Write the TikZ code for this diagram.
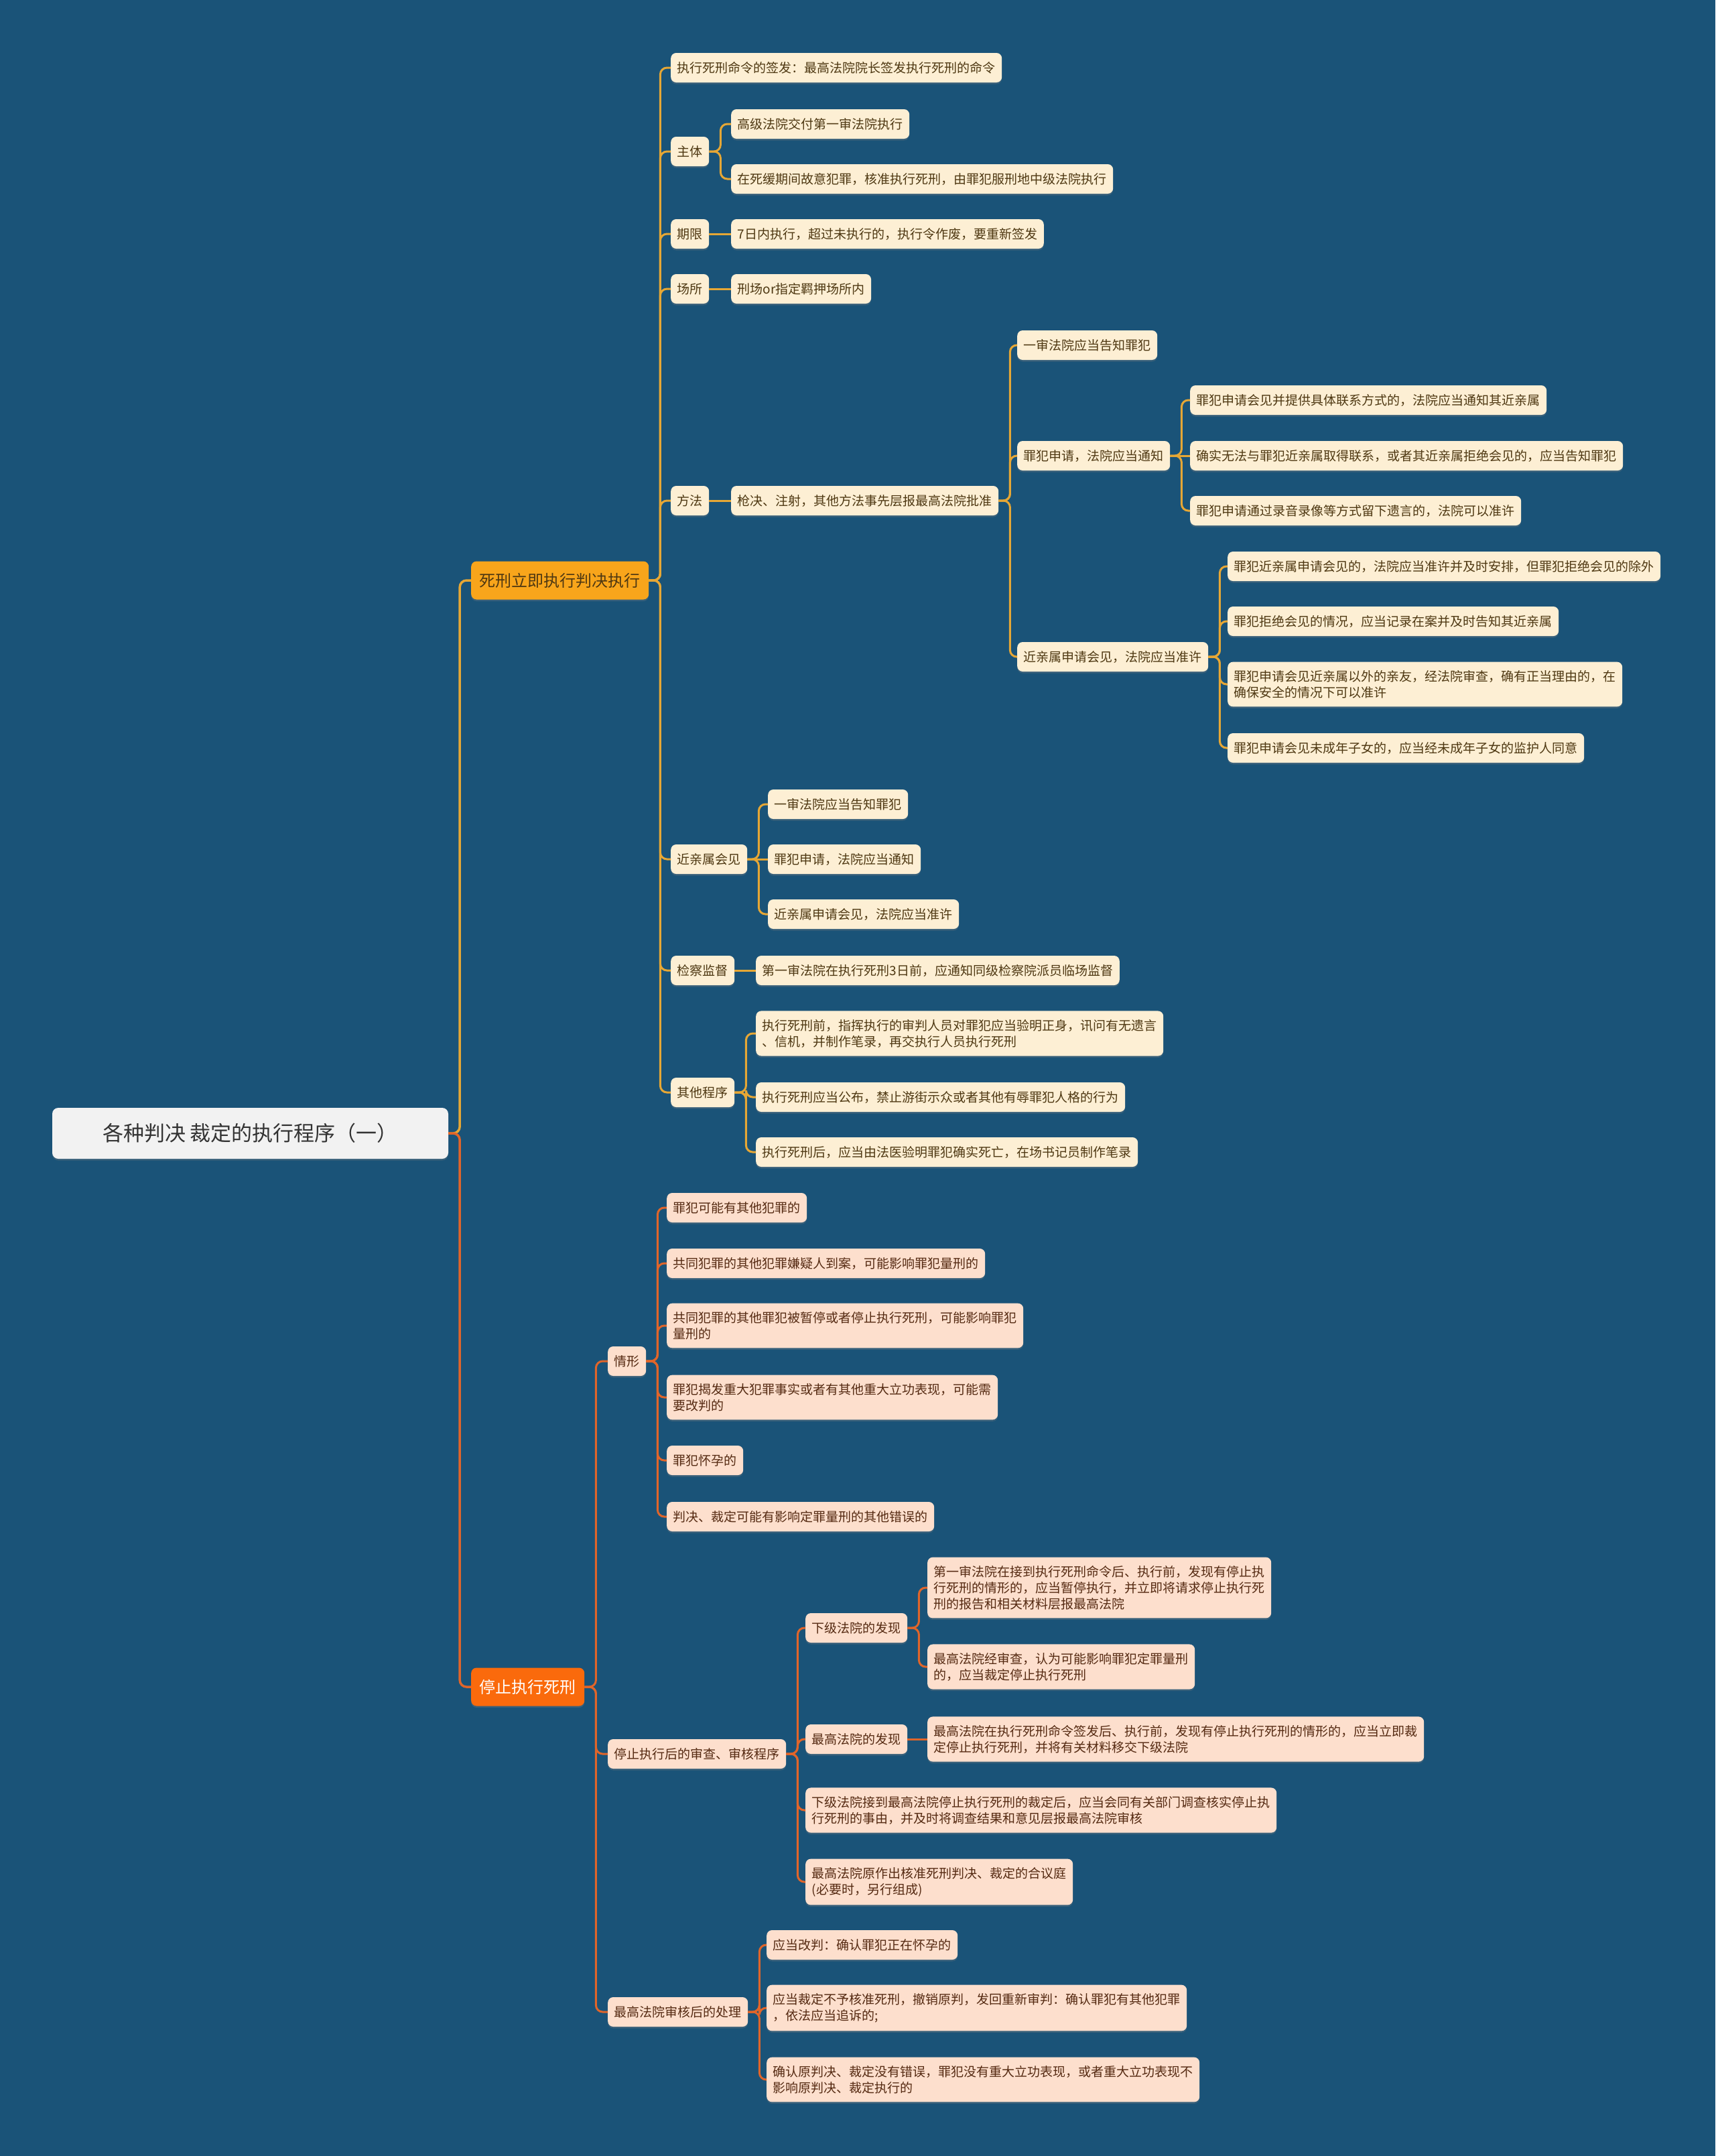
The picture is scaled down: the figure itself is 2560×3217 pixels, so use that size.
\documentclass[tikz,border=0pt]{standalone}
\usepackage{fontspec}
\setmainfont{Noto Sans CJK SC}
\usetikzlibrary{positioning,shadows}

\definecolor{bgblue}{HTML}{1A5378}
\definecolor{rootgray}{HTML}{F2F2F2}
\definecolor{rootink}{HTML}{333333}
\definecolor{mainyellow}{HTML}{F8A51B}
\definecolor{mainorange}{HTML}{FA6A0C}
\definecolor{creama}{HTML}{FDEFD4}
\definecolor{peachb}{HTML}{FDDFCD}
\definecolor{inka}{HTML}{4E3812}
\definecolor{inkb}{HTML}{552A12}
\definecolor{wirea}{HTML}{E6A735}
\definecolor{wireb}{HTML}{E0652A}

\begin{document}
\begin{tikzpicture}[
    x=1pt, y=-1pt,
    rootbox/.style={fill=rootgray, text=rootink, rounded corners=9pt, minimum width=591pt, minimum height=76pt,
        font=\fontsize{31}{36}\selectfont, drop shadow={opacity=0.3, shadow xshift=0pt, shadow yshift=-2.5pt}},
    mainbox/.style={anchor=west, rounded corners=8pt, inner xsep=12.5pt, minimum height=57pt,
        font=\fontsize{24}{28}\selectfont, drop shadow={opacity=0.3, shadow xshift=0pt, shadow yshift=-2.5pt}},
    leaf/.style={anchor=west, rounded corners=8pt, inner xsep=9.5pt, inner ysep=12.5pt, minimum height=44pt,
        align=left, font=\fontsize{19}{24}\selectfont, drop shadow={opacity=0.3, shadow xshift=0pt, shadow yshift=-2.5pt}},
    leafa/.style={leaf, fill=creama, text=inka},
    leafb/.style={leaf, fill=peachb, text=inkb},
    linka/.style={draw=wirea, line width=3pt, rounded corners=10pt},
    linkb/.style={draw=wireb, line width=3pt, rounded corners=10pt}
]
\fill[bgblue] (0,0) rectangle (2560,3217);
\useasboundingbox (0,0) rectangle (2560,3217);

% root and the two main branches
\node[rootbox] (root) at (373.5,1691) {各种判决 裁定的执行程序（一）};
\node[mainbox, fill=mainyellow, text=inka] (m1) at (703,866) {死刑立即执行判决执行};
\node[mainbox, fill=mainorange, text=white] (m2) at (703,2517) {停止执行死刑};

% branch 1
\node[leafa] (a1) at (1001,101) {执行死刑命令的签发：最高法院院长签发执行死刑的命令};
\node[leafa] (a2) at (1001,226) {主体};
\node[leafa] (a21) at (1091,185) {高级法院交付第一审法院执行};
\node[leafa] (a22) at (1091,267) {在死缓期间故意犯罪，核准执行死刑，由罪犯服刑地中级法院执行};
\node[leafa] (a3) at (1001,349) {期限};
\node[leafa] (a31) at (1091,349) {7日内执行，超过未执行的，执行令作废，要重新签发};
\node[leafa] (a4) at (1001,431) {场所};
\node[leafa] (a41) at (1091,431) {刑场or指定羁押场所内};
\node[leafa] (a5) at (1001,747) {方法};
\node[leafa] (a51) at (1091,747) {枪决、注射，其他方法事先层报最高法院批准};
\node[leafa] (a511) at (1518,515) {一审法院应当告知罪犯};
\node[leafa] (a512) at (1518,680) {罪犯申请，法院应当通知};
\node[leafa] (a5121) at (1776,597) {罪犯申请会见并提供具体联系方式的，法院应当通知其近亲属};
\node[leafa] (a5122) at (1776,680) {确实无法与罪犯近亲属取得联系，或者其近亲属拒绝会见的，应当告知罪犯};
\node[leafa] (a5123) at (1776,762) {罪犯申请通过录音录像等方式留下遗言的，法院可以准许};
\node[leafa] (a513) at (1518,980) {近亲属申请会见，法院应当准许};
\node[leafa] (a5131) at (1832,845) {罪犯近亲属申请会见的，法院应当准许并及时安排，但罪犯拒绝会见的除外};
\node[leafa] (a5132) at (1832,927) {罪犯拒绝会见的情况，应当记录在案并及时告知其近亲属};
\node[leafa] (a5133) at (1832,1021) {罪犯申请会见近亲属以外的亲友，经法院审查，确有正当理由的，在\\确保安全的情况下可以准许};
\node[leafa] (a5134) at (1832,1116) {罪犯申请会见未成年子女的，应当经未成年子女的监护人同意};
\node[leafa] (a6) at (1001,1282) {近亲属会见};
\node[leafa] (a61) at (1146,1200) {一审法院应当告知罪犯};
\node[leafa] (a62) at (1146,1282) {罪犯申请，法院应当通知};
\node[leafa] (a63) at (1146,1364) {近亲属申请会见，法院应当准许};
\node[leafa] (a7) at (1001,1448) {检察监督};
\node[leafa] (a71) at (1128,1448) {第一审法院在执行死刑3日前，应通知同级检察院派员临场监督};
\node[leafa] (a8) at (1001,1630) {其他程序};
\node[leafa] (a81) at (1128,1542) {执行死刑前，指挥执行的审判人员对罪犯应当验明正身，讯问有无遗言\\、信机，并制作笔录，再交执行人员执行死刑};
\node[leafa] (a82) at (1128,1637) {执行死刑应当公布，禁止游街示众或者其他有辱罪犯人格的行为};
\node[leafa] (a83) at (1128,1719) {执行死刑后，应当由法医验明罪犯确实死亡，在场书记员制作笔录};

% branch 2
\node[leafb] (b1) at (907,2031) {情形};
\node[leafb] (b11) at (995,1802) {罪犯可能有其他犯罪的};
\node[leafb] (b12) at (995,1885) {共同犯罪的其他犯罪嫌疑人到案，可能影响罪犯量刑的};
\node[leafb] (b13) at (995,1978) {共同犯罪的其他罪犯被暂停或者停止执行死刑，可能影响罪犯\\量刑的};
\node[leafb] (b14) at (995,2085) {罪犯揭发重大犯罪事实或者有其他重大立功表现，可能需\\要改判的};
\node[leafb] (b15) at (995,2179) {罪犯怀孕的};
\node[leafb] (b16) at (995,2263) {判决、裁定可能有影响定罪量刑的其他错误的};
\node[leafb] (b2) at (907,2617) {停止执行后的审查、审核程序};
\node[leafb] (b21) at (1202,2429) {下级法院的发现};
\node[leafb] (b211) at (1384,2369) {第一审法院在接到执行死刑命令后、执行前，发现有停止执\\行死刑的情形的，应当暂停执行，并立即将请求停止执行死\\刑的报告和相关材料层报最高法院};
\node[leafb] (b212) at (1384,2487) {最高法院经审查，认为可能影响罪犯定罪量刑\\的，应当裁定停止执行死刑};
\node[leafb] (b22) at (1202,2595) {最高法院的发现};
\node[leafb] (b221) at (1384,2595) {最高法院在执行死刑命令签发后、执行前，发现有停止执行死刑的情形的，应当立即裁\\定停止执行死刑，并将有关材料移交下级法院};
\node[leafb] (b23) at (1202,2701) {下级法院接到最高法院停止执行死刑的裁定后，应当会同有关部门调查核实停止执\\行死刑的事由，并及时将调查结果和意见层报最高法院审核};
\node[leafb] (b24) at (1202,2808) {最高法院原作出核准死刑判决、裁定的合议庭\\(必要时，另行组成)};
\node[leafb] (b3) at (907,3002) {最高法院审核后的处理};
\node[leafb] (b31) at (1144,2902) {应当改判：确认罪犯正在怀孕的};
\node[leafb] (b32) at (1144,2996) {应当裁定不予核准死刑，撤销原判，发回重新审判：确认罪犯有其他犯罪\\，依法应当追诉的;};
\node[leafb] (b33) at (1144,3103) {确认原判决、裁定没有错误，罪犯没有重大立功表现，或者重大立功表现不\\影响原判决、裁定执行的};

% connectors
\draw[linka, line width=3.5pt] (root.east) -- ++(17,0) |- (m1.west);
\draw[linkb, line width=3.5pt] (root.east) -- ++(17,0) |- (m2.west);
\foreach \p/\c in {m1/a1, m1/a2, m1/a3, m1/a4, m1/a5, m1/a6, m1/a7, m1/a8,
    a2/a21, a2/a22, a51/a511, a51/a512, a51/a513,
    a512/a5121, a512/a5123, a513/a5131, a513/a5132, a513/a5133, a513/a5134,
    a6/a61, a6/a63, a8/a81, a8/a82, a8/a83}
  \draw[linka] (\p.east) -- ++(17,0) |- (\c.west);
\foreach \p/\c in {a3/a31, a4/a41, a5/a51, a512/a5122, a6/a62, a7/a71}
  \draw[linka] (\p.east) -- (\c.west);
\foreach \p/\c in {m2/b1, m2/b2, m2/b3, b1/b11, b1/b12, b1/b13, b1/b14, b1/b15, b1/b16,
    b2/b21, b2/b22, b2/b23, b2/b24, b21/b211, b21/b212, b3/b31, b3/b32, b3/b33}
  \draw[linkb] (\p.east) -- ++(17,0) |- (\c.west);
\draw[linkb] (b22.east) -- (b221.west);
\end{tikzpicture}
\end{document}
